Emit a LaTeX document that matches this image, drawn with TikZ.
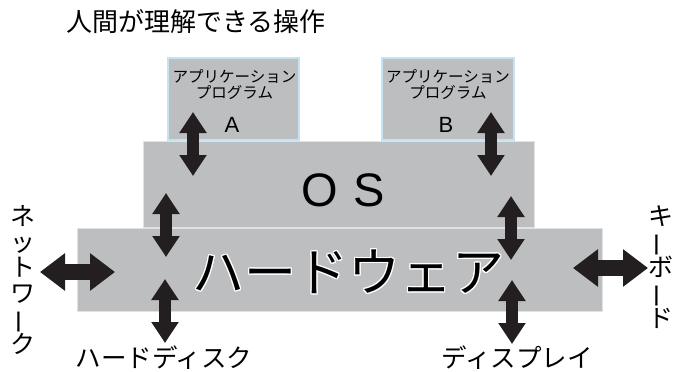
\documentclass[tikz,border=0pt]{standalone}
\usepackage{fontspec}
\usepackage{graphicx}
\setmainfont{Noto Sans CJK JP}
\newfontfamily\latinsans{Liberation Sans}
\usetikzlibrary{arrows.meta}
\definecolor{boxgray}{RGB}{188,190,192}
\definecolor{arrowblack}{RGB}{35,31,32}
\definecolor{appedge}{RGB}{196,228,244}
\definecolor{osedge}{RGB}{225,226,227}
\newcommand{\vbar}{\smash{\rotatebox[origin=c]{90}{ー}}}
\begin{document}
\begin{tikzpicture}[x=1pt,y=-1pt,
  appbox/.style={rectangle, fill=boxgray, draw=appedge, line width=1.2pt, inner sep=0pt},
  sysbox/.style={rectangle, fill=boxgray, draw=osedge, line width=1pt, inner sep=0pt},
  smallarrow/.style={draw=arrowblack, line width=12pt, line cap=butt,
    {Triangle[width=26pt,length=21pt]}-{Triangle[width=26pt,length=21pt]}},
  bigarrow/.style={draw=arrowblack, line width=16pt, line cap=butt,
    {Triangle[width=36pt,length=25pt]}-{Triangle[width=36pt,length=25pt]}},
  apptext/.style={inner sep=0pt, align=center, font=\fontsize{15.5}{16}\selectfont},
  letter/.style={inner sep=0pt, font=\latinsans\fontsize{22}{24}\selectfont},
  label/.style={inner sep=0pt, font=\fontsize{25.5}{27}\selectfont},
  vtext/.style={inner sep=0pt, align=center, font=\fontsize{25}{25.5}\selectfont},
  hwtext/.style={inner sep=0pt, font=\fontsize{52}{56}\selectfont}
]
\useasboundingbox (0,0) rectangle (673,372);

% title
\node[inner sep=0pt, font=\fontsize{26}{28}\selectfont] (title) at (196,22) {人間が理解できる操作};

% boxes
\node[appbox, minimum width=131pt, minimum height=82pt] (appA) at (233.5,99) {};
\node[appbox, minimum width=132pt, minimum height=82pt] (appB) at (448,99) {};
\node[sysbox, minimum width=391pt, minimum height=86pt] (os) at (338.5,184.5) {};
\node[sysbox, minimum width=525pt, minimum height=83pt] (hw) at (339.5,269.5) {};

% box texts
\node[apptext] (appAt) at (234.5,85) {アプリケーション\\プログラム};
\node[apptext] (appBt) at (448,85) {アプリケーション\\プログラム};
\node[letter] (letA) at (232,125) {A};
\node[letter] (letB) at (446,125) {B};
\node[inner sep=0pt, font=\latinsans\fontsize{47}{50}\selectfont] (ostext) at (343,190) {O\hspace{16pt}S};

\foreach \dx/\dy [count=\i] in {1.2/0, -1.2/0, 0/1.2, 0/-1.2, 0.85/0.85, 0.85/-0.85, -0.85/0.85, -0.85/-0.85,
   1.1/0.5, 1.1/-0.5, -1.1/0.5, -1.1/-0.5, 0.5/1.1, -0.5/1.1, 0.5/-1.1, -0.5/-1.1}
  \node[hwtext, text=white] (hwhalo\i) at (348.5+\dx,272+\dy) {ハードウェア};
\node[hwtext, text=black] (hwt) at (348.5,272) {ハードウェア};

% outside labels
\node[label] (disk) at (164,358) {ハードディスク};
\node[label] (disp) at (517,358) {ディスプレイ};
\node[vtext] (net) at (23,280) {ネ\\ッ\\ト\\ワ\\\vbar\\ク};
\node[vtext] (kbd) at (661,267) {キ\\\vbar\\ボ\\\vbar\\ド};

% arrow end points
\coordinate (aA1) at (193,112);  \coordinate (aA2) at (193,176);
\coordinate (aB1) at (491,112);  \coordinate (aB2) at (491,176);
\coordinate (oL1) at (166,193);  \coordinate (oL2) at (166,257);
\coordinate (oR1) at (511,196);  \coordinate (oR2) at (511,260);
\coordinate (dL1) at (165,279);  \coordinate (dL2) at (165,343);
\coordinate (dR1) at (512,280);  \coordinate (dR2) at (512,344);
\coordinate (n1) at (40,272);    \coordinate (n2) at (115,272);
\coordinate (k1) at (573,268);   \coordinate (k2) at (648,268);

\draw[smallarrow] (aA1) -- (aA2);
\draw[smallarrow] (aB1) -- (aB2);
\draw[smallarrow] (oL1) -- (oL2);
\draw[smallarrow] (oR1) -- (oR2);
\draw[smallarrow] (dL1) -- (dL2);
\draw[smallarrow] (dR1) -- (dR2);
\draw[bigarrow] (n1) -- (n2);
\draw[bigarrow] (k1) -- (k2);
\end{tikzpicture}
\end{document}
